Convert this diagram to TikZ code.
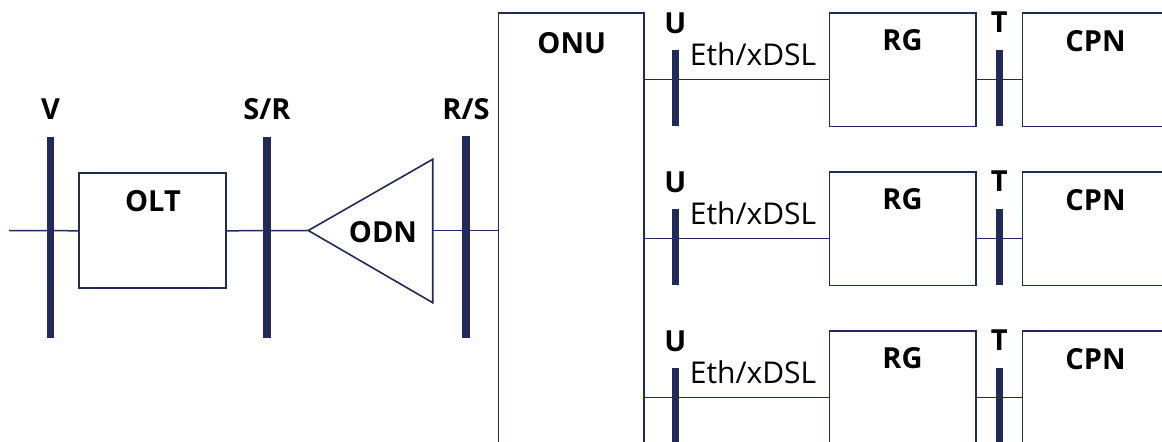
\documentclass[tikz,border=0pt]{standalone}
\usepackage{fontspec}
\setmainfont{Open Sans}
\definecolor{navy}{RGB}{34,42,90}
\def\px{0.5pt}
\begin{document}
\begin{tikzpicture}[x=0.5pt,y=-0.5pt,
	box/.style={draw=navy,line width=0.8pt,inner sep=0pt,rectangle},
	bar/.style={fill=navy,inner sep=0pt,minimum width=7.4*\px},
	lbl/.style={font=\fontsize{14.5}{17}\selectfont\bfseries,anchor=base,inner sep=0pt},
	wire/.style={draw=navy,line width=0.75pt}]
		\clip (0,0) rectangle (1162,442);
		\coordinate (in) at (9,230.5);
		\node[box,minimum width=147*\px,minimum height=115*\px] (olt) at (152.5,230.8) {};
		\node[box,minimum width=145.4*\px,minimum height=480*\px] (onu) at (571,253.3) {};
		\coordinate (odnL) at (308.3,230.5);
		\coordinate (odnR) at (432.7,230.5);
		\draw[wire,line width=0.8pt] (odnL)--(432.7,159.3)--(432.7,302.7)--cycle;
		\draw[wire] (in)--(olt.west);
		\draw[wire] (olt.east)--(odnL);
		\draw[wire] (odnR)--(onu.west |- odnR);
		\node[bar,minimum height=201*\px] (v) at (50.5,237.5) {};
		\node[bar,minimum height=201*\px] (sr) at (267,237.5) {};
		\node[bar,minimum height=202*\px] (rs) at (465.8,237.2) {};
		\node[lbl] (vlbl) at (50.5,120) {V};
		\node[lbl] (srlbl) at (267,120) {S/R};
		\node[lbl] (rslbl) at (466,119.5) {R/S};
		\node[lbl] (oltlbl) at (153,211.5) {OLT};
		\node[lbl] (odnlbl) at (383,242.5) {ODN};
		\node[lbl] (onulbl) at (571.7,53.3) {ONU};
		\foreach \r/\n in {79.5/1,238.5/2,397.5/3}{
			\coordinate (p\n) at (0,\r);
			\node[box,minimum width=146.4*\px,minimum height=113.4*\px] (rg\n) at (902.5,\r-9.5) {};
			\node[box,minimum width=158*\px,minimum height=113.4*\px] (cpn\n) at (1101.3,\r-9.5) {};
			\draw[wire] (onu.east |- p\n)--(rg\n.west |- p\n);
			\draw[wire] (rg\n.east |- p\n)--(cpn\n.west |- p\n);
			\node[bar,minimum height=76*\px] (u\n) at (675.3,\r+9) {};
			\node[bar,minimum height=76*\px] (t\n) at (999.2,\r+9) {};
			\node[lbl] (ulbl\n) at (675.3,\r-45.5) {U};
			\node[lbl] (tlbl\n) at (999.2,\r-46.5) {T};
			\node[lbl] (rglbl\n) at (902.5,\r-28.8) {RG};
			\node[lbl] (cpnlbl\n) at (1095.5,\r-27.8) {CPN};
			\node[anchor=base west,inner sep=0pt,font=\fontsize{15}{17}\selectfont] (eth\n) at (689.5,\r-13.8) {Eth/xDSL};
		}
		\end{tikzpicture}
\end{document}
